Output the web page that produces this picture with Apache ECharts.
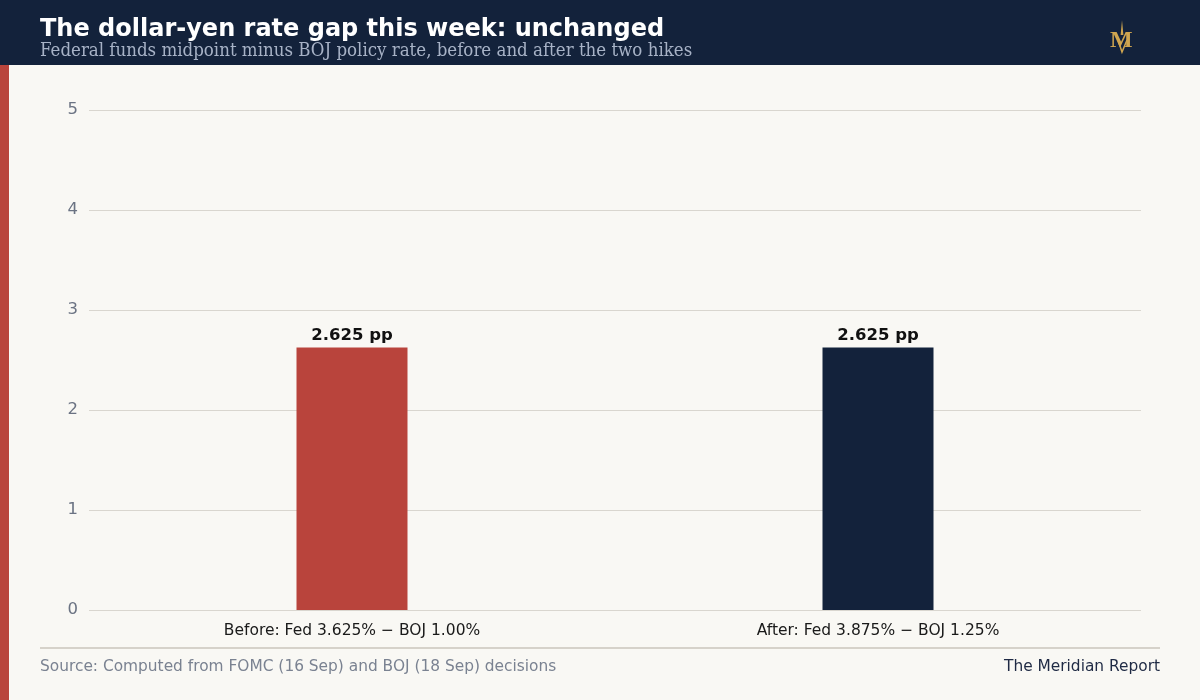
<!DOCTYPE html>
<html><head><meta charset="utf-8">
<script src="https://cdn.jsdelivr.net/npm/echarts@6/dist/echarts.min.js"></script>
<style>html,body{margin:0;padding:0;background:#f9f8f4}#c{width:1200px;height:700px}</style>
</head><body><div id="c"></div>
<script>
const categories = ['Before: Fed 3.625% \u2212 BOJ 1.00%', 'After: Fed 3.875% \u2212 BOJ 1.25%'];
const gapValues = [2.625, 2.625];
const barColors = ['#b9443c', '#13223b'];
const yTicks = [0, 1, 2, 3, 4, 5];

const chart = echarts.init(document.getElementById('c'), null, {renderer: 'canvas'});
chart.setOption({
  backgroundColor: '#f9f8f4',
  animation: false,
  grid: {left: 89, right: 59, top: 110, bottom: 90, containLabel: false},
  xAxis: {
    type: 'category', data: categories,
    axisLine: {show: false}, axisTick: {show: false},
    axisLabel: {color: '#1a1a1a', fontSize: 15.5, fontFamily: 'DejaVu Sans', margin: 13}
  },
  yAxis: {
    type: 'value', min: 0, max: 5, interval: 1,
    axisLine: {show: false}, axisTick: {show: false},
    axisLabel: {color: '#6b7383', fontSize: 16.5, fontFamily: 'DejaVu Sans', margin: 11, padding: [3, 0, 0, 0]},
    splitLine: {lineStyle: {color: '#d9d6cf', width: 1}}
  },
  series: [{
    type: 'bar', barWidth: 111,
    data: gapValues.map((v, i) => ({value: v, itemStyle: {color: barColors[i]}})),
    label: {show: true, position: 'top', distance: 3, color: '#111', fontWeight: 'bold', fontSize: 16.5,
      fontFamily: 'DejaVu Sans', formatter: p => p.value.toFixed(3) + ' pp'}
  }],
  graphic: [
    {type: 'rect', left: 0, top: 0, shape: {width: 1200, height: 65}, style: {fill: '#13223b'}, z: 10},
    {type: 'rect', left: 0, top: 65, shape: {width: 9, height: 635}, style: {fill: '#b9443c'}, z: 10},
    {type: 'text', left: 40, top: 18, z: 11, style: {text: 'The dollar-yen rate gap this week: unchanged',
      fill: '#ffffff', font: 'bold 24px "DejaVu Sans"'}},
    {type: 'text', left: 40, top: 42, z: 11, style: {text: 'Federal funds midpoint minus BOJ policy rate, before and after the two hikes',
      fill: '#a7b2c6', font: '18.5px "DejaVu Serif Condensed", "DejaVu Serif", serif'}},
    {type: 'text', left: 1110, top: 29, z: 11, style: {text: 'M', fill: '#d0a650', font: 'bold 24px "Liberation Serif", serif'}},
    {type: 'polygon', z: 12, shape: {points: [[1122, 20], [1120.6, 35], [1123.4, 35]]}, style: {fill: '#d0a650'}},
    {type: 'polyline', z: 12, shape: {points: [[1118, 40], [1122, 52], [1127, 40]]}, style: {stroke: '#d0a650', lineWidth: 1.5}},
    {type: 'line', z: 5, shape: {x1: 40, y1: 648, x2: 1160, y2: 648}, style: {stroke: '#d6d2ca', lineWidth: 2}},
    {type: 'text', left: 40, top: 659, z: 5, style: {text: 'Source: Computed from FOMC (16 Sep) and BOJ (18 Sep) decisions',
      fill: '#7a8291', font: '15.4px "DejaVu Sans"'}},
    {type: 'text', right: 40, top: 659, z: 5, style: {text: 'The Meridian Report',
      fill: '#1f2a44', font: '15.4px "DejaVu Sans"'}}
  ]
});
</script></body></html>
